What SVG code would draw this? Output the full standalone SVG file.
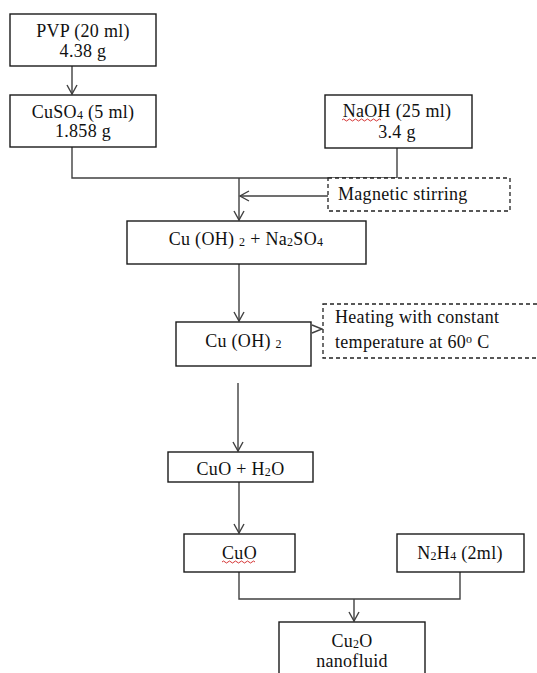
<svg xmlns="http://www.w3.org/2000/svg" width="537" height="673" viewBox="0 0 537 673">
<style>
.box{fill:#fff;stroke:#1a1a1a;stroke-width:1.4}
.dbox{fill:#fff;stroke:#222;stroke-width:1.3;stroke-dasharray:4 3}
.t{font-family:"Liberation Serif","Times New Roman",serif;font-size:18px;fill:#111;letter-spacing:0.3px}
.c{text-anchor:middle}
.s{font-size:12px}
.ln{fill:none;stroke:#404040;stroke-width:1.4}
.sq{fill:none;stroke:#d02020;stroke-width:0.9}
</style>
<defs>
<marker id="arr" viewBox="-10 -7 12 14" markerWidth="12" markerHeight="14" refX="0" refY="0" orient="auto" markerUnits="userSpaceOnUse">
<path d="M-9,-5 L0,0 L-9,5" fill="none" stroke="#404040" stroke-width="1.4"/>
</marker>
</defs>
<g id="connectors">
<line class="ln" x1="72" y1="66" x2="72" y2="94" marker-end="url(#arr)"/>
<polyline class="ln" points="72,147 72,178 397,178 397,148"/>
<line class="ln" x1="239" y1="178" x2="239" y2="220" marker-end="url(#arr)"/>
<line class="ln" x1="328" y1="196" x2="240" y2="196" marker-end="url(#arr)"/>
<line class="ln" x1="239" y1="264" x2="239" y2="321" marker-end="url(#arr)"/>
<polyline class="ln" points="312,325 322,329 312,333"/>
<line class="ln" x1="238" y1="383" x2="238" y2="451" marker-end="url(#arr)"/>
<line class="ln" x1="239" y1="482" x2="239" y2="533" marker-end="url(#arr)"/>
<polyline class="ln" points="239,572 239,599 460,599 460,572"/>
<line class="ln" x1="354" y1="599" x2="354" y2="621" marker-end="url(#arr)"/>
</g>
<g id="pvp">
<rect class="box" x="10" y="14" width="146" height="52"/>
<text class="t c" x="83" y="37">PVP (20 ml)</text>
<text class="t c" x="83" y="57">4.38 g</text>
</g>
<g id="cuso4">
<rect class="box" x="10" y="95" width="146" height="52"/>
<text class="t c" x="83" y="118">CuSO<tspan class="s" dy="1">4</tspan><tspan dy="-1"> (5 ml)</tspan></text>
<text class="t c" x="83" y="137">1.858 g</text>
</g>
<g id="naoh">
<rect class="box" x="325" y="95" width="147" height="53"/>
<text class="t c" x="397" y="117">NaOH (25 ml)</text>
<text class="t c" x="397" y="138">3.4 g</text>
<path class="sq" d="M342,120 q1.5,-2 3,0 t3,0 t3,0 t3,0 t3,0 t3,0 t3,0 t3,0 t3,0 t3,0 t3,0 t3,0 t3,0"/>
</g>
<g id="magnetic">
<rect class="dbox" x="328" y="178" width="182" height="33"/>
<text class="t" x="338" y="200">Magnetic stirring</text>
</g>
<g id="cuoh2na2so4">
<rect class="box" x="127" y="221" width="239" height="43"/>
<text class="t c" x="246" y="245">Cu (OH) <tspan class="s" dy="1">2</tspan><tspan dy="-1"> + Na</tspan><tspan class="s" dy="1">2</tspan><tspan dy="-1">SO</tspan><tspan class="s" dy="1">4</tspan></text>
</g>
<g id="cuoh2">
<rect class="box" x="176" y="322" width="135" height="44"/>
<text class="t c" x="243.5" y="347">Cu (OH) <tspan class="s" dy="1">2</tspan></text>
</g>
<g id="heating">
<rect class="dbox" x="323" y="304" width="230" height="54"/>
<text class="t" x="335" y="323">Heating with constant</text>
<text class="t" x="335" y="348">temperature at 60<tspan class="s" dy="-5">o</tspan><tspan dy="5"> C</tspan></text>
</g>
<g id="cuoh2o">
<rect class="box" x="168" y="452" width="145" height="30"/>
<text class="t c" x="240.5" y="475">CuO + H<tspan class="s" dy="1">2</tspan><tspan dy="-1">O</tspan></text>
</g>
<g id="cuo">
<rect class="box" x="184" y="534" width="111" height="38"/>
<text class="t c" x="239.5" y="559">CuO</text>
<path class="sq" d="M222,562 q1.5,-2 3,0 t3,0 t3,0 t3,0 t3,0 t3,0 t3,0 t3,0 t3,0 t3,0 t3,0"/>
</g>
<g id="n2h4">
<rect class="box" x="397" y="534" width="127" height="38"/>
<text class="t c" x="460" y="559">N<tspan class="s" dy="1">2</tspan><tspan dy="-1">H</tspan><tspan class="s" dy="1">4</tspan><tspan dy="-1"> (2ml)</tspan></text>
</g>
<g id="cu2o">
<rect class="box" x="279" y="622" width="146" height="60"/>
<text class="t c" x="352" y="647">Cu<tspan class="s" dy="1">2</tspan><tspan dy="-1">O</tspan></text>
<text class="t c" x="352" y="667">nanofluid</text>
</g>
</svg>
